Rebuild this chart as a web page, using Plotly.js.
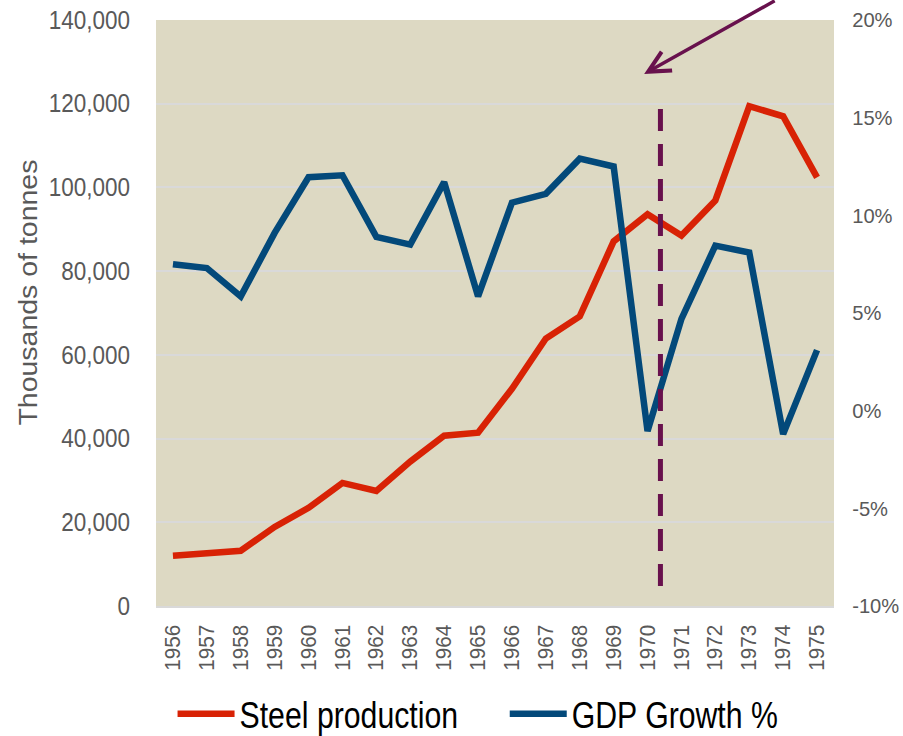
<!DOCTYPE html>
<html>
<head>
<meta charset="utf-8">
<script src="https://cdn.plot.ly/plotly-3.0.1.min.js"></script>
<style>html,body{margin:0;padding:0;background:#fff;}#chart{width:903px;height:736px;}</style>
</head>
<body>
<div id="chart"></div>
<script>
const years = ["1956","1957","1958","1959","1960","1961","1962","1963","1964","1965","1966","1967","1968","1969","1970","1971","1972","1973","1974","1975"];
const steelProduction = [12000,12700,13200,18900,23450,29400,27500,34500,40700,41400,51900,63900,69200,87100,93600,88500,96900,119400,117000,102400];
const gdpGrowth = [7.5,7.3,5.85,9.1,11.95,12.05,8.9,8.5,11.7,5.85,10.65,11.1,12.9,12.5,-1.05,4.7,8.45,8.1,-1.2,3.1];
const leftTicks = [0,20000,40000,60000,80000,100000,120000,140000];
const rightTicks = [-10,-5,0,5,10,15,20];
const rightTickText = ["-10%","-5%","0%","5%","10%","15%","20%"];

const FONT = '"Liberation Sans Narrow","Arial Narrow","Liberation Sans",sans-serif';

const traces = [
  {x: years, y: steelProduction, type: 'scatter', mode: 'lines', name: 'Steel production',
   line: {color: '#D82205', width: 6.5}, yaxis: 'y'},
  {x: years, y: gdpGrowth, type: 'scatter', mode: 'lines', name: 'GDP Growth %',
   line: {color: '#03497A', width: 6.5}, yaxis: 'y2'}
];

const layout = {
  width: 903, height: 736,
  margin: {l: 156, r: 69, t: 20, b: 130, autoexpand: false},
  paper_bgcolor: '#ffffff',
  plot_bgcolor: '#DDD9C3',
  showlegend: true,
  legend: {orientation: 'h', xref: 'container', yref: 'container', x: 0.551, xanchor: 'center', y: 0.03, yanchor: 'middle',
           font: {family: FONT, size: 36, color: '#000000'}, itemwidth: 57, tracegroupgap: 0},
  xaxis: {type: 'category', tickangle: -90, tickfont: {family: FONT, size: 22, color: '#595959'},
          showgrid: false, showline: true, linecolor: '#D9D9D9', linewidth: 2, ticks: 'outside', ticklen: 8,
          tickcolor: 'rgba(0,0,0,0)', zeroline: false, range: [-0.5, 19.5], fixedrange: true},
  yaxis: {range: [0, 140000], tickvals: leftTicks, tickformat: ',d',
          tickfont: {family: FONT, size: 25, color: '#595959'},
          showgrid: true, gridcolor: '#D9D9D9', gridwidth: 2, zeroline: false, ticks: 'outside', ticklen: 20,
          tickcolor: 'rgba(0,0,0,0)'},
  yaxis2: {range: [-10, 20], tickvals: rightTicks, ticktext: rightTickText, overlaying: 'y', side: 'right',
           tickfont: {family: FONT, size: 21, color: '#595959'}, showgrid: false, zeroline: false,
           ticks: 'outside', ticklen: 13, tickcolor: 'rgba(0,0,0,0)'},
  shapes: [
    {type: 'line', xref: 'x', yref: 'paper', x0: 14.38, x1: 14.38, y0: 0.034, y1: 0.85,
     line: {color: '#68114D', width: 5, dash: '22px,13px'}}
  ],
  annotations: [
    {xref: 'x', yref: 'paper', x: 13.9, y: 0.908, ax: 132, ay: -78, showarrow: true,
     arrowhead: 5, arrowsize: 1.2, arrowwidth: 3.5, arrowcolor: '#68114D', text: '', standoff: 0},
    {xref: 'paper', yref: 'paper', x: -0.188, y: 0.535, xanchor: 'center', yanchor: 'middle', textangle: -90,
     showarrow: false, text: 'Thousands of tonnes', font: {family: FONT, size: 26, color: '#595959'}}
  ]
};

function squeeze(root, sel, k, fixed) {
  root.querySelectorAll(sel).forEach(function (t) {
    const L = t.getComputedTextLength();
    if (!L) return;
    t.setAttribute('textLength', fixed ? fixed : L * k);
    t.setAttribute('lengthAdjust', 'spacingAndGlyphs');
  });
}

Plotly.newPlot('chart', traces, layout, {displayModeBar: false, staticPlot: true}).then(function (gd) {
  squeeze(gd, 'g.ytick text', 0.9);
  squeeze(gd, 'g.y2tick text', 0.96);
  squeeze(gd, 'g.xtick text', 0.94);
  squeeze(gd, 'text.legendtext', 0.84);
  squeeze(gd, 'text.annotation-text', 1, 266);
});
</script>
</body>
</html>
